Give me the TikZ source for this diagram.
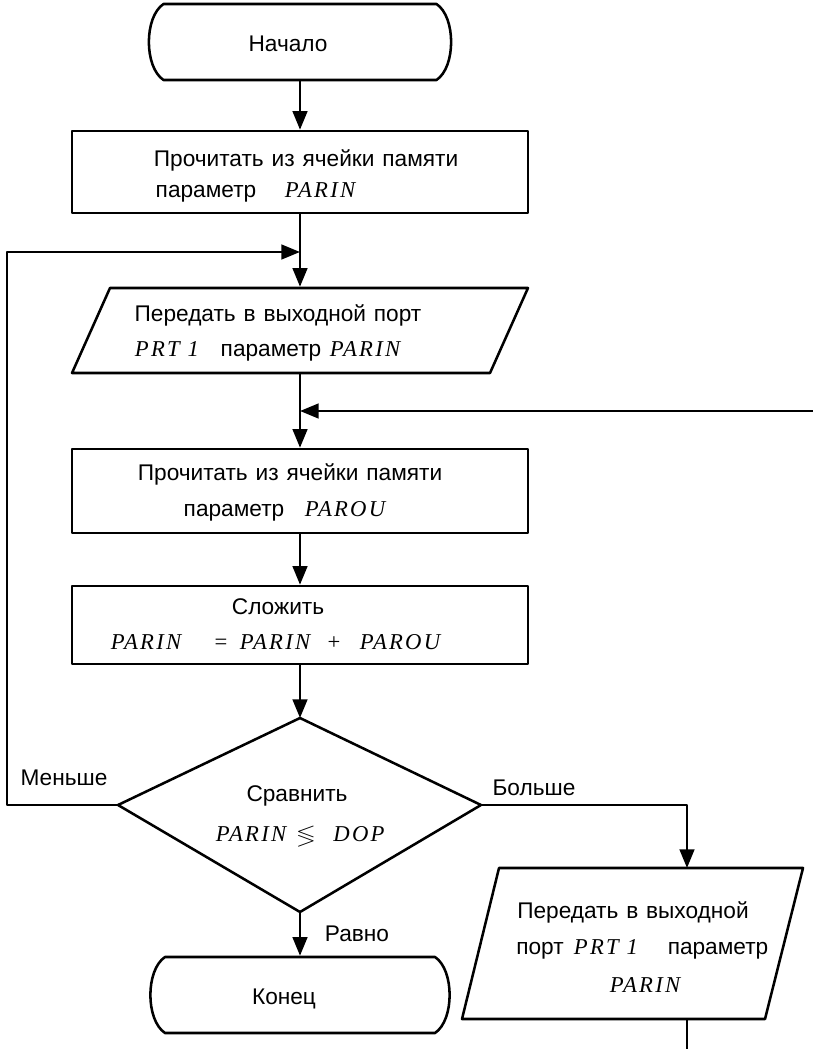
\documentclass[tikz,border=0pt]{standalone}
\usepackage{fontspec}
\usepackage{amssymb}
\setmainfont{Liberation Sans}[WordSpace=1.25]
\newfontfamily\varfont{Liberation Serif}[LetterSpace=10]
\usetikzlibrary{arrows.meta,shapes.misc}
\newcommand\V[1]{{\varfont\itshape #1}}
\newcommand\R[1]{{\varfont #1}}
\begin{document}
\begin{tikzpicture}[x=0.75pt,y=-0.75pt,line width=1.9pt,line join=round,
  arr/.style={-{Triangle[length=14pt,width=11pt]}},
  blk/.style={draw,rectangle,minimum width=342pt,inner sep=0pt},
  term/.style={rounded rectangle,rounded rectangle arc length=90,inner sep=0pt,minimum height=57pt},
  txt/.style={inner sep=0pt,anchor=base,font=\fontsize{17}{20}\selectfont},
  vtx/.style={inner sep=0pt,anchor=base,font=\fontsize{17}{20}\selectfont},
]
\useasboundingbox (0,0) rectangle (813,1049);

% shapes
\node[term,minimum width=227pt] (start) at (300,42) {};
\draw (163.5,4) -- (436.5,4) .. controls (456,17) and (456,67) .. (436.5,80)
      -- (163.5,80) .. controls (144,67) and (144,17) .. (163.5,4) -- cycle;
\node[blk,minimum height=61.5pt] (b1) at (300,172) {};
\node[rectangle,inner sep=0pt,minimum width=342pt,minimum height=63.75pt] (p1) at (300,330.5) {};
\draw (110,288) -- (528,288) -- (490,373) -- (72,373) -- cycle;
\node[blk,minimum height=63pt] (b2) at (300,491) {};
\node[blk,minimum height=58.5pt] (b3) at (300,625) {};
\coordinate (dT) at (300,718);
\coordinate (dL) at (118,805);
\coordinate (dR) at (481,805);
\coordinate (dB) at (300,912);
\draw (dT) -- (dR) -- (dB) -- (dL) -- cycle;
\node[term,minimum width=225pt] (end) at (300,995) {};
\draw (165,957) -- (435,957) .. controls (454.5,970) and (454.5,1020) .. (435,1033)
      -- (165,1033) .. controls (145.5,1020) and (145.5,970) .. (165,957) -- cycle;
\coordinate (p2in) at (687,868);
\coordinate (p2out) at (687,1019);
\draw (499,868) -- (803,868) -- (765,1019) -- (462,1019) -- cycle;

% texts
\node[txt] (t0) at (288,52) {Начало};
\node[txt] (t1a) at (306,166) {Прочитать из ячейки памяти};
\node[txt] (t1b) at (206,197) {параметр};
\node[vtx] (t1c) at (320,197) {\V{PARIN}};
\node[txt] (t2a) at (278,321) {Передать в выходной порт};
\node[vtx] (t2b) at (167,356) {\V{PRT 1}};
\node[txt] (t2c) at (271,356) {параметр};
\node[vtx] (t2d) at (365,356) {\V{PARIN}};
\node[txt] (t3a) at (290,480) {Прочитать из ячейки памяти};
\node[txt] (t3b) at (234,516) {параметр};
\node[vtx] (t3c) at (345,516) {\V{PAROU}};
\node[txt] (t4a) at (278,614) {Сложить};
\node[vtx] (t4b) at (146,649) {\V{PARIN}};
\node[vtx] (t4c) at (221,649) {\R{=}};
\node[vtx] (t4d) at (275,649) {\V{PARIN}};
\node[vtx] (t4e) at (334,649) {\R{+}};
\node[vtx] (t4f) at (400,649) {\V{PAROU}};
\node[txt] (t5a) at (297,801) {Сравнить};
\node[vtx] (t5b) at (251,841) {\V{PARIN}};
\node[vtx] (t5c) at (306,841) {$\lessgtr$};
\node[vtx] (t5d) at (359,841) {\V{DOP}};
\node[txt] (t6a) at (633,918) {Передать в выходной};
\node[txt] (t6b) at (540,954) {порт};
\node[vtx] (t6c) at (606,954) {\V{PRT 1}};
\node[txt] (t6d) at (718,954) {параметр};
\node[vtx] (t6e) at (645,992) {\V{PARIN}};
\node[txt] (lm) at (64,785) {Меньше};
\node[txt] (lb) at (534,795) {Больше};
\node[txt] (lr) at (357,941) {Равно};
\node[txt] (t7) at (284,1004) {Конец};

% connectors
\coordinate (j1) at (300,252);
\coordinate (lc) at (7,805);
\coordinate (j2) at (300,411);
\coordinate (rin) at (813,411);
\coordinate (rc) at (687,805);
\coordinate (bend) at (687,1049);
\draw[arr] (start.south) -- (b1.north);
\draw[arr] (b1.south) -- (p1.north);
\draw[arr] (dL) -- (lc) |- (j1);
\draw[arr] (p1.south) -- (b2.north);
\draw[arr] (rin) -- (j2);
\draw[arr] (b2.south) -- (b3.north);
\draw[arr] (b3.south) -- (dT);
\draw[arr] (dB) -- (end.north);
\draw[arr] (dR) -- (rc) -- (p2in);
\draw (p2out) -- (bend);
\end{tikzpicture}
\end{document}
